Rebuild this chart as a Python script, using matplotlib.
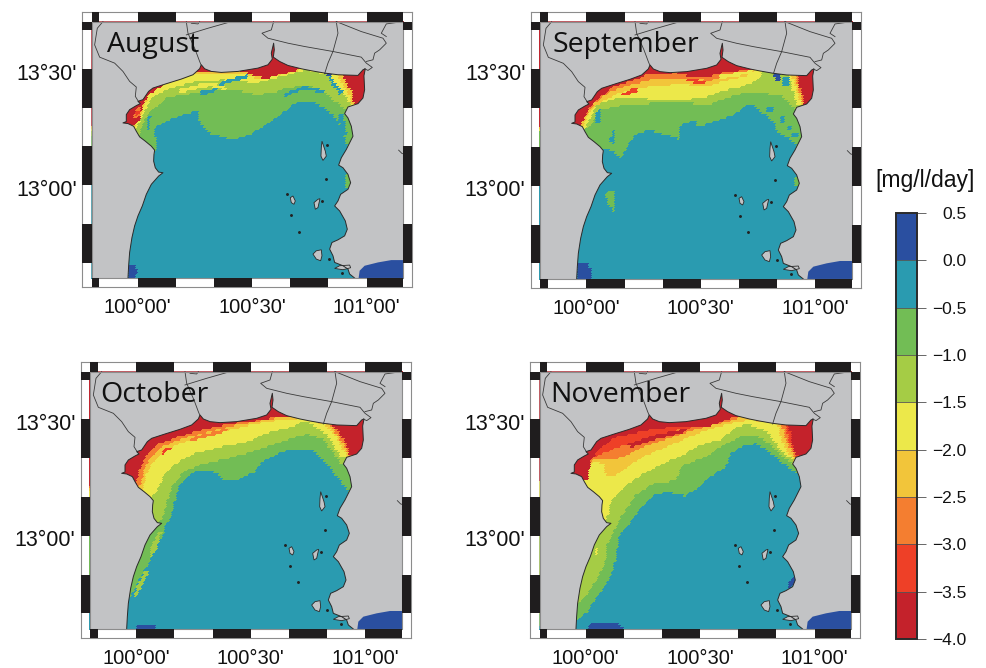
import numpy as np
import matplotlib
matplotlib.use("Agg")
import matplotlib.pyplot as plt
from matplotlib.colors import ListedColormap, BoundaryNorm
from matplotlib.path import Path
from matplotlib.patches import Rectangle
from matplotlib.cm import ScalarMappable
from matplotlib.transforms import ScaledTranslation

plt.rcParams['font.family'] = ['Liberation Sans', 'DejaVu Sans']

# colour classes, low to high
levels = [-4.0, -3.5, -3.0, -2.5, -2.0, -1.5, -1.0, -0.5, 0.0, 0.5]
level_colors = ['#c4222b', '#ee4027', '#f47e30', '#f2c53a', '#ece84a', '#a5cc45', '#72bd55', '#2a9bb0', '#2a4fa0']
level_labels = ['\u22124.0', '\u22123.5', '\u22123.0', '\u22122.5', '\u22122.0', '\u22121.5', '\u22121.0', '\u22120.5', '0.0', '0.5']
BLUE, TEAL, GREEN, LIME, YELLOW, GOLD, ORANGE, SCARLET, RED = 0.25, -0.25, -0.75, -1.25, -1.75, -2.25, -2.75, -3.25, -3.75
land_color = '#c2c3c5'

months = ['August', 'September', 'October', 'November']
lon_ticks = [100.0, 100.5, 101.0]
lon_labels = ["100\u00b000'", "100\u00b030'", "101\u00b000'"]
lat_ticks = [13.0, 13.5]
lat_labels = ["13\u00b000'", "13\u00b030'"]

# the map is read on a grid of picture units, turned into degrees below
coast = [(170,837),(172,800),(175,760),(182,715),(190,680),(200,650),(213,620),(225,585),(240,555),(262,530),
         (275,520),(262,518),(252,505),(247,485),(248,465),(250,452),(240,440),(222,425),(205,412),(195,395),
         (187,380),(170,372),(155,370),(165,366),(165,345),(175,330),(195,318),(207,312),(200,305),(215,300),
         (232,275),(245,265),(285,252),(330,238),(365,225),(385,207),(390,195),(400,207),(420,215),(450,218),
         (500,215),(560,205),(590,195),(603,178),(600,160),(607,130),(609,150),(606,172),(625,185),(650,197),
         (690,207),(720,213),(760,220),(800,225),(860,227),(875,210),(882,207),(878,228),(880,270),(875,295),
         (860,312),(830,322),(820,342),(830,355),(840,380),(845,410),(835,430),(825,450),(810,475),(802,497),
         (815,505),(830,525),(838,550),(830,570),(808,585),(800,605),(790,620),(805,635),(822,665),(828,690),
         (820,710),(800,722),(782,730),(775,750),(785,770),(790,790),(815,800),(830,810),(835,825),(850,837)]
land_close = [(996,837),(996,65),(61,65),(61,837)]
islands = [[(752,425),(757,440),(762,455),(765,470),(755,483),(749,470),(750,445)],
           [(657,595),(665,590),(672,605),(668,615),(660,610)],
           [(728,610),(740,600),(746,598),(740,625),(732,630)],
           [(725,765),(735,755),(750,752),(752,770),(748,785),(735,780)],
           [(790,808),(805,800),(835,798),(838,806),(815,812)]]
rocks = [(646,585),(660,648),(683,697),(765,540),(768,437),(772,780),(752,606),(812,822)]
borders = [[(95,65),(78,85),(70,135),(85,172),(130,190),(155,215),(175,245),(195,262),(192,290),(200,303)],
           [(345,105),(410,85),(480,65)],
           [(345,65),(350,100),(372,150),(385,185),(390,197)],
           [(360,70),(380,72),(385,65)],
           [(607,65),(600,90),(572,100),(590,115),(650,130),(700,140),(785,155),(870,172),(885,190),(903,203),(890,212),(880,207)],
           [(795,65),(800,100),(785,155),(770,190),(760,222)],
           [(795,65),(870,95),(935,115),(945,130),(925,150),(910,160),(905,180),(885,185)],
           [(995,65),(945,72),(930,100),(945,110)],
           [(982,452),(992,462),(996,463)]]
far_blue = [(862,837),(865,815),(880,800),(920,790),(960,783),(996,783),(996,837)]

# class boundaries, west to east
aug_green = [(251,468),(258,433),(246,388),(286,368),(336,348),(381,338),(388,378),(416,403),(486,423),(536,408),(586,378),(636,343),(676,313),(716,308),(756,323),(786,348),(811,383),(826,433),(840,448)]
aug_lime = [(205,405),(228,350),(286,298),(396,278),(496,273),(556,288),(606,283),(646,268),(716,258),(766,283),(816,328),(830,330)]
aug_yellow = [(195,395),(222,340),(242,296),(296,268),(376,248),(456,243),(556,253),(616,238),(706,213),(766,228),(826,293),(840,325)]
aug_gold = [(190,385),(215,335),(236,283),(296,248),(381,225),(416,225),(516,223),(556,238),(596,238),(676,218),(706,208),(720,190),(780,190),(800,228),(834,290),(845,325)]
aug_red = [(186,382),(205,365),(214,330),(228,293),(281,255),(326,241),(381,216),(426,216),(506,213),(556,233),(586,240),(636,225),(686,213),(700,190),(790,190),(815,232),(846,285),(850,320)]

sep_green = [(250,447),(285,460),(305,478),(325,440),(345,410),(385,392),(430,405),(480,420),(485,375),(530,365),(535,385),(590,365),(640,350),(680,320),(700,315),(725,340),(760,365),(775,400),(810,420),(838,445)]
sep_lime = [(205,385),(220,370),(240,335),(300,320),(400,313),(500,310),(560,320),(610,300),(680,280),(740,285),(790,290),(820,325),(830,330)]
sep_yellow = [(190,395),(200,385),(215,350),(235,315),(300,295),(390,300),(470,305),(560,295),(610,275),(660,265),(720,240),(740,190),(800,190),(812,240),(825,290),(832,320)]
sep_gold = [(180,385),(192,378),(215,330),(270,295),(320,275),(400,262),(480,255),(560,262),(620,245),(700,225),(720,190),(810,190),(820,235),(832,275),(845,316)]
sep_orange = [(182,382),(200,350),(222,315),(270,280),(330,258),(400,242),(500,240),(570,245),(630,230),(700,217),(720,190),(825,190),(830,235),(838,272),(850,316)]
sep_red = [(185,380),(205,335),(235,300),(280,265),(340,245),(390,225),(470,222),(520,235),(570,232),(620,220),(660,215),(700,208),(720,190),(830,190),(838,232),(842,270),(855,315)]

oct_green = [(170,748),(185,745),(195,720),(215,680),(240,640),(258,600),(280,560),(285,535),(305,500),(318,450),(330,410),(350,385),(380,368),(420,362),(445,375),(465,392),(490,397),(520,385),(555,370),(575,340),(610,322),(650,305),(700,300),(730,305),(755,325),(780,355),(805,385),(830,420),(845,435)]
oct_lime = [(240,520),(270,522),(285,495),(295,450),(310,410),(330,385),(340,370),(400,345),(470,330),(540,310),(600,290),(660,270),(710,255),(760,270),(790,310),(815,345),(830,345)]
oct_yellow = [(235,445),(250,445),(265,420),(280,385),(310,350),(370,315),(450,295),(530,280),(600,250),(660,235),(710,215),(740,235),(770,255),(790,285),(815,325),(830,322)]
oct_gold = [(215,425),(220,420),(230,380),(245,345),(280,310),(340,280),(420,262),(490,240),(560,225),(620,215),(700,207),(770,230),(800,265),(825,310),(835,322)]
oct_orange = [(205,415),(215,400),(225,360),(240,330),(275,295),(335,270),(415,250),(485,232),(560,218),(620,208),(700,200),(780,225),(808,262),(832,305),(840,322)]
oct_red = [(200,410),(210,360),(230,320),(265,285),(330,262),(410,240),(480,225),(560,215),(620,205),(700,200),(785,225),(812,255),(836,300),(842,320)]

nov_green = [(160,825),(172,815),(205,790),(230,750),(260,710),(285,660),(295,600),(305,550),(335,520),(370,470),(410,435),(450,430),(500,440),(540,415),(570,385),(620,355),(635,315),(660,295),(710,285),(735,295),(770,325),(810,355),(840,378)]
nov_lime = [(165,790),(175,770),(200,740),(235,690),(260,640),(265,590),(280,555),(310,500),(350,440),(400,405),(470,395),(490,350),(560,325),(610,290),(660,265),(710,258),(760,290),(790,325),(830,348)]
nov_yellow = [(245,520),(262,515),(270,490),(275,460),(320,410),(380,370),(440,340),(490,320),(540,290),(610,270),(650,235),(690,225),(745,250),(790,310),(832,338)]
nov_gold = [(208,345),(235,338),(255,345),(262,378),(300,376),(330,350),(380,320),(440,295),(510,265),(570,240),(630,225),(690,212),(775,225),(795,290),(828,338)]
nov_orange = [(208,340),(232,330),(265,335),(310,325),(370,295),(430,275),(500,250),(560,235),(640,215),(700,195),(785,210),(800,270),(830,328)]
nov_scarlet = [(208,335),(222,325),(260,310),(340,280),(420,258),(490,240),(560,230),(640,208),(700,190),(795,210),(812,280),(832,322)]
nov_red = [(200,395),(205,395),(215,340),(240,300),(290,265),(380,245),(450,235),(520,230),(580,230),(640,205),(660,203),(700,190),(802,190),(810,230),(825,310),(840,322)]

# patches and streaks drawn over the classes
aug_blobs = [(BLUE, [(172,837),(175,797),(195,800),(200,825),(195,837)]),
             (TEAL, [(392,278),(430,270),(460,245),(530,228),(530,238),(460,255),(430,282),(392,288)]),
             (TEAL, [(640,285),(700,262),(760,275),(760,285),(700,272),(640,295)]),
             (TEAL, [(225,395),(232,350),(240,350),(236,395)]),
             (BLUE, [(755,218),(780,218),(785,232),(770,232)]),
             (TEAL, [(780,235),(815,280),(808,288),(772,240)]),
             (TEAL, [(800,345),(815,345),(830,410),(815,410)]),
             (YELLOW, [(330,270),(420,250),(470,268),(470,278),(420,262),(330,282)]),
             (ORANGE, [(188,345),(205,322),(212,340),(192,365)]),
             (LIME, [(560,262),(650,245),(650,262),(560,275)]),
             (GREEN, [(826,525),(842,530),(842,570),(822,572)]),
             (SCARLET, [(192,340),(204,332),(205,345),(194,355)])]
sep_blobs = [(BLUE, [(170,837),(172,790),(205,790),(218,820),(215,837)]),
             (GREEN, [(262,577),(285,575),(287,642),(272,625),(258,595)]),
             (TEAL, [(228,375),(232,335),(245,330),(240,370)]),
             (TEAL, [(272,430),(278,395),(288,395),(283,435)]),
             (BLUE, [(755,215),(775,215),(785,250),(770,245)]),
             (TEAL, [(785,232),(812,232),(812,262),(792,262)]),
             (TEAL, [(740,325),(760,325),(760,340),(740,340)]),
             (TEAL, [(780,355),(795,355),(795,370),(780,370)]),
             (TEAL, [(800,380),(815,380),(815,395),(800,395)]),
             (TEAL, [(820,400),(835,400),(835,415),(820,415)]),
             (SCARLET, [(490,240),(530,240),(565,255),(520,250)]),
             (SCARLET, [(305,285),(350,265),(355,278),(310,292)]),
             (GREEN, [(826,535),(842,535),(842,565),(826,565)]),
             (YELLOW, [(600,230),(700,212),(700,224),(600,240)])]
oct_blobs = [(BLUE, [(200,837),(202,828),(255,828),(258,837)]),
             (LIME, [(190,745),(215,685),(228,665),(238,670),(215,715),(198,745)]),
             (LIME, [(240,600),(268,545),(278,545),(262,600),(245,625)]),
             (SCARLET, [(275,310),(300,290),(306,298),(280,318)]),
             (YELLOW, [(232,390),(250,345),(258,350),(240,395)]),
             (LIME, [(620,265),(700,225),(705,236),(625,276)]),
             (ORANGE, [(360,268),(470,238),(472,248),(362,278)])]
nov_blobs = [(BLUE, [(205,837),(215,822),(260,818),(300,825),(315,837)]),
             (BLUE, [(815,690),(828,680),(828,702),(810,718)]),
             (RED, [(330,285),(420,255),(500,240),(500,250),(420,268),(335,296)]),
             (YELLOW, [(226,620),(234,590),(240,590),(230,625)])]

month_bands = [[(GREEN, aug_green), (LIME, aug_lime), (YELLOW, aug_yellow), (GOLD, aug_gold), (RED, aug_red)],
               [(GREEN, sep_green), (LIME, sep_lime), (YELLOW, sep_yellow), (GOLD, sep_gold), (ORANGE, sep_orange), (RED, sep_red)],
               [(GREEN, oct_green), (LIME, oct_lime), (YELLOW, oct_yellow), (GOLD, oct_gold), (ORANGE, oct_orange), (RED, oct_red)],
               [(GREEN, nov_green), (LIME, nov_lime), (YELLOW, nov_yellow), (GOLD, nov_gold), (ORANGE, nov_orange), (SCARLET, nov_scarlet), (RED, nov_red)]]
month_blobs = [aug_blobs, sep_blobs, oct_blobs, nov_blobs]


def to_lon(x):
    return 100 + (np.asarray(x, dtype=float) - 199) / 687


def to_lat(y):
    return 13.5 - (np.asarray(y, dtype=float) - 207) / 700


def xy(points):
    p = np.array(points, dtype=float)
    return to_lon(p[:, 0]), to_lat(p[:, 1])


outer_x, outer_y = (33, 1023), (37, 864)
inner_x, inner_y = (61, 996), (65, 837)
cell = 7
grid_x = np.r_[np.arange(inner_x[0], inner_x[1], cell), inner_x[1]]
grid_y = np.r_[np.arange(inner_y[0], inner_y[1], cell), inner_y[1]]
mid_x, mid_y = np.meshgrid((grid_x[:-1] + grid_x[1:]) / 2, (grid_y[:-1] + grid_y[1:]) / 2)
cells = np.column_stack([mid_x.ravel(), mid_y.ravel()])

cmap = ListedColormap(level_colors)
norm = BoundaryNorm(levels, cmap.N)

W, H = 987, 668
fig = plt.figure(figsize=(W / 100, H / 100), dpi=100)
# left, top, right, bottom of each frame in the picture
frames = [(82.3, 12.3, 412.3, 287), (531, 12.3, 861, 288), (81, 362.3, 411, 638), (530.3, 362.3, 860.3, 638)]
name_pos = [(107, 45), (553, 45), (100, 395), (550, 395)]

for i, month in enumerate(months):
    l, t, r, b = frames[i]
    ax = fig.add_axes([l / W, 1 - b / H, (r - l) / W, (b - t) / H])
    ax.set_xlim(to_lon(outer_x[0]), to_lon(outer_x[1]))
    ax.set_ylim(to_lat(outer_y[1]), to_lat(outer_y[0]))

    field = np.full(len(cells), TEAL)
    for value, curve in month_bands[i]:
        ring = curve + [(1005, curve[-1][1]), (1005, 55), (50, 55), (50, curve[0][1])]
        field[Path(ring).contains_points(cells)] = value
    for value, blob in month_blobs[i]:
        field[Path(blob).contains_points(cells)] = value
    field = field.reshape(mid_x.shape)
    ax.pcolormesh(to_lon(grid_x), to_lat(grid_y), field, cmap=cmap, norm=norm, shading='flat',
                  edgecolors='face', linewidth=0.1)

    cx, cy = xy(coast)
    lx, ly = xy(coast + land_close)
    ax.fill(lx, ly, color=land_color, lw=0)
    ax.plot(cx, cy, color='#2a2a2a', lw=0.7)
    for line in borders:
        bx, by = xy(line)
        ax.plot(bx, by, color='#3a3a3a', lw=0.6)
    for isle in islands:
        ix, iy = xy(isle)
        ax.fill(ix, iy, facecolor=land_color, edgecolor='#2a2a2a', lw=0.6)
    rx, ry = xy(rocks)
    ax.plot(rx, ry, ls='none', marker='o', ms=1.1, color='#222222')
    fx, fy = xy(far_blue)
    ax.fill(fx, fy, color=level_colors[-1], lw=0)

    # black and white border, ten minutes a step
    x0, x1, x2, x3 = to_lon([outer_x[0], inner_x[0], inner_x[1], outer_x[1]])
    y0, y1, y2, y3 = to_lat([outer_y[1], inner_y[1], inner_y[0], outer_y[0]])
    ax.add_patch(Rectangle((x1, y1), x2 - x1, y2 - y1, fill=False, ec='#8c8c8c', lw=0.8, zorder=5))
    lon_steps = np.arange(99.0 + 5 / 6, 101.2, 1 / 6)
    for k, a in enumerate(np.r_[x1, lon_steps]):
        if k % 2 == 0:
            e = np.r_[lon_steps, x2][k]
            ax.add_patch(Rectangle((a, y0), min(e, x2) - a, y1 - y0, color='#1f1d1e', lw=0, zorder=6))
            ax.add_patch(Rectangle((a, y2), min(e, x2) - a, y3 - y2, color='#1f1d1e', lw=0, zorder=6))
    lat_steps = np.arange(13 + 4 / 6, 12.6, -1 / 6)
    for k, a in enumerate(np.r_[y2, lat_steps]):
        if k % 2 == 0:
            e = np.r_[lat_steps, y1][k]
            ax.add_patch(Rectangle((x0, e), x1 - x0, a - e, color='#1f1d1e', lw=0, zorder=6))
            ax.add_patch(Rectangle((x2, e), x3 - x2, a - e, color='#1f1d1e', lw=0, zorder=6))

    for s in ax.spines.values():
        s.set_color('#8c8c8c')
        s.set_linewidth(0.8)
    ax.set_xticks(lon_ticks, lon_labels, fontsize=14.5)
    ax.set_yticks(lat_ticks, lat_labels, fontsize=15.5)
    ax.tick_params(length=0, labelcolor='#111111')
    ax.tick_params(axis='x', pad=8)
    ax.tick_params(axis='y', pad=4)
    # latitude labels sit a little under their tick
    nudge = ScaledTranslation(0, -2 / 72, fig.dpi_scale_trans)
    for lab in ax.get_yticklabels():
        lab.set_transform(lab.get_transform() + nudge)
    fig.text(name_pos[i][0] / W, 1 - name_pos[i][1] / H, month, family='Open Sans', fontsize=20.5,
             va='center', ha='left', color='#111111', zorder=10)

cax = fig.add_axes([896.5 / W, 1 - 639 / H, 21 / W, 426 / H])
cb = fig.colorbar(ScalarMappable(norm=norm, cmap=cmap), cax=cax, ticks=levels, spacing='proportional', drawedges=True)
cb.dividers.set_color('#555555')
cb.dividers.set_linewidth(0.6)
cb.outline.set_edgecolor('#2a2a2a')
cb.outline.set_linewidth(1.4)
cax.set_yticklabels(level_labels, fontsize=12.5, ha='right')
cax.tick_params(axis='y', length=6.5, width=0.7, color='#666666', pad=29, labelcolor='#111111')
fig.text(925 / W, 1 - 180 / H, '[mg/l/day]', fontsize=16.5, ha='center', va='center', color='#111111')

fig.savefig('out.png', dpi=100)
